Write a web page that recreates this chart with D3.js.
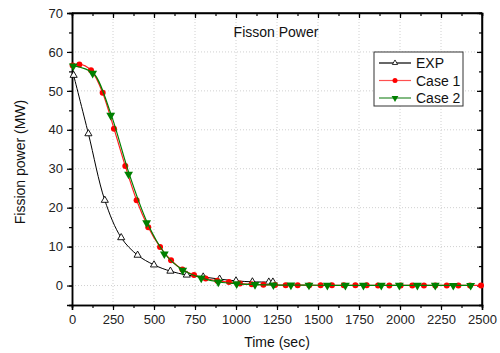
<!DOCTYPE html>
<html>
<head>
<meta charset="utf-8">
<script src="https://cdn.jsdelivr.net/npm/d3@7"></script>
<style>
  body { margin: 0; background: #fff; }
  svg { display: block; font-family: "Liberation Sans", Arial, sans-serif; }
</style>
</head>
<body>
<div class="chart"></div>
<script>
// data
var expTime = [10, 100, 200, 300, 400, 500, 600, 700, 800, 900, 1000, 1100, 1200, 1225];
var expPower = [54, 39, 21.9, 12.3, 7.8, 5.3, 3.7, 2.7, 2.2, 1.65, 1.2, 0.95, 0.9, 0.9];

var case1Time = [4, 45, 116, 187, 256, 325, 394, 465, 537, 604, 673, 744, 815, 886, 957, 1024, 1096, 1167, 1238,
  1303, 1376, 1447, 1516, 1585, 1657, 1728, 1797, 1866, 1935, 2004, 2075, 2146, 2215, 2285, 2356, 2427, 2494];
var case1Power = [56.5, 56.8, 55.3, 49.5, 40.3, 30.7, 21.9, 15.0, 9.9, 6.5, 4.1, 2.7, 1.8, 1.2, 0.9, 0.5, 0.3, 0.2, 0.15,
  0.1, 0.1, 0.08, 0.07, 0.06, 0.05, 0.05, 0.05, 0.04, 0.04, 0.04, 0.03, 0.03, 0.03, 0.03, 0.02, 0.02, 0.02];

var case2Time = [8, 126, 236, 345, 455, 563, 675, 788, 892, 1004, 1116, 1228, 1335, 1445, 1557, 1667, 1777, 1886,
  1996, 2106, 2215, 2325, 2431];
var case2Power = [56.4, 54.5, 43.7, 28.6, 16.1, 8.1, 3.9, 1.9, 0.9, 0.45, 0.25, 0.15, 0.1, 0.08, 0.06, 0.05, 0.05, 0.04,
  0.04, 0.03, 0.03, 0.02, 0.02];

var xTicks = [0, 250, 500, 750, 1000, 1250, 1500, 1750, 2000, 2250, 2500];
var yTicks = [0, 10, 20, 30, 40, 50, 60, 70];
var seriesNames = ["EXP", "Case 1", "Case 2"];

var width = 500;
var height = 353;
var margin = {top: 13, right: 18, bottom: 48, left: 72};

var svg = d3.select(".chart").append("svg")
    .attr("width", width)
    .attr("height", height);

var x = d3.scaleLinear().domain([0, 2500]).range([margin.left, width - margin.right]);
var y = d3.scaleLinear().domain([-5, 70]).range([height - margin.bottom, margin.top]);

var x0 = x.range()[0], x1 = x.range()[1];
var y0 = y.range()[0], y1 = y.range()[1];

// grid
svg.append("g").selectAll("line").data(xTicks.slice(1, -1)).enter().append("line")
    .attr("x1", function(d) { return x(d); })
    .attr("x2", function(d) { return x(d); })
    .attr("y1", y1).attr("y2", y0)
    .attr("stroke", "#d0d0d0").attr("stroke-dasharray", "1,2");
svg.append("g").selectAll("line").data(yTicks.slice(0, -1)).enter().append("line")
    .attr("y1", function(d) { return y(d); })
    .attr("y2", function(d) { return y(d); })
    .attr("x1", x0).attr("x2", x1)
    .attr("stroke", "#d0d0d0").attr("stroke-dasharray", "1,2");

// axes
var xMinor = d3.range(0, 2501, 125);
var yMinor = d3.range(-5, 71, 5);

var axBottom = svg.append("g").attr("transform", "translate(0," + y0 + ")")
    .call(d3.axisBottom(x).tickValues(xTicks).tickSize(5).tickPadding(5).tickFormat(d3.format("d")));
var axLeft = svg.append("g").attr("transform", "translate(" + x0 + ",0)")
    .call(d3.axisLeft(y).tickValues(yTicks).tickSize(5).tickPadding(4));
var axTop = svg.append("g").attr("transform", "translate(0," + y1 + ")")
    .call(d3.axisBottom(x).tickValues(xTicks).tickSize(5).tickFormat(""));
var axRight = svg.append("g").attr("transform", "translate(" + x1 + ",0)")
    .call(d3.axisLeft(y).tickValues(yTicks).tickSize(5).tickFormat(""));

svg.append("g").attr("transform", "translate(0," + y0 + ")")
    .call(d3.axisBottom(x).tickValues(xMinor).tickSize(3).tickFormat(""));
svg.append("g").attr("transform", "translate(" + x0 + ",0)")
    .call(d3.axisLeft(y).tickValues(yMinor).tickSize(3).tickFormat(""));
svg.append("g").attr("transform", "translate(0," + y1 + ")")
    .call(d3.axisBottom(x).tickValues(xMinor).tickSize(3).tickFormat(""));
svg.append("g").attr("transform", "translate(" + x1 + ",0)")
    .call(d3.axisLeft(y).tickValues(yMinor).tickSize(3).tickFormat(""));

svg.selectAll(".domain").attr("stroke", "#000").attr("stroke-width", 1.5);
svg.selectAll(".tick line").attr("stroke", "#000").attr("stroke-width", 1.2);
svg.selectAll(".tick text").attr("font-size", 13).attr("fill", "#222")
    .attr("font-family", "Liberation Sans, Arial, sans-serif");
axTop.select(".domain").attr("d", "M" + x0 + ",0H" + x1);
axRight.select(".domain").attr("d", "M0," + y0 + "V" + y1);

// lines
var line = d3.line()
    .x(function(d) { return x(d[0]); })
    .y(function(d) { return y(d[1]); });

var expData = d3.zip(expTime, expPower);
var case1Data = d3.zip(case1Time, case1Power);
var case2Data = d3.zip(case2Time, case2Power);

var triUp = d3.symbol().type(d3.symbolTriangle).size(22);
var triDown = d3.symbol().type(d3.symbolTriangle).size(34);

svg.append("path").datum(expData)
    .attr("d", line.curve(d3.curveCatmullRom)(expData)).attr("fill", "none").attr("stroke", "#000").attr("stroke-width", 1);
svg.append("g").selectAll("path").data(expData).enter().append("path")
    .attr("d", triUp)
    .attr("transform", function(d) { return "translate(" + x(d[0]) + "," + y(d[1]) + ")"; })
    .attr("fill", "#fff").attr("stroke", "#000").attr("stroke-width", 0.9);

line.curve(d3.curveMonotoneX);
svg.append("path").datum(case1Data)
    .attr("d", line).attr("fill", "none").attr("stroke", "#ff2020").attr("stroke-width", 1.2);
svg.append("g").selectAll("circle").data(case1Data).enter().append("circle")
    .attr("cx", function(d) { return x(d[0]); })
    .attr("cy", function(d) { return y(d[1]); })
    .attr("r", 3).attr("fill", "#ff0000");

svg.append("path").datum(case2Data)
    .attr("d", line).attr("fill", "none").attr("stroke", "#008000").attr("stroke-width", 1.2)
    .attr("transform", "translate(0.7,0)");
svg.append("g").selectAll("path").data(case2Data).enter().append("path")
    .attr("d", triDown)
    .attr("transform", function(d) { return "translate(" + x(d[0]) + "," + y(d[1]) + ") rotate(180)"; })
    .attr("fill", "#008000");

// title and axis labels
svg.append("text").attr("x", 276).attr("y", 37).attr("text-anchor", "middle")
    .attr("font-size", 14).attr("fill", "#111").text("Fisson Power");
svg.append("text").attr("x", (x0 + x1) / 2).attr("y", 347).attr("text-anchor", "middle")
    .attr("font-size", 14).attr("fill", "#111").text("Time (sec)");
svg.append("text").attr("transform", "translate(25," + 162 + ") rotate(-90)").attr("text-anchor", "middle")
    .attr("font-size", 14).attr("fill", "#111").text("Fission power (MW)");

// legend
var lg = svg.append("g").attr("transform", "translate(374,52)");
lg.append("rect").attr("width", 89).attr("height", 54)
    .attr("fill", "#fff").attr("stroke", "#333").attr("stroke-width", 1);
var lineColors = ["#000", "#ff5050", "#2e8b2e"];
var rows = lg.selectAll("g").data(seriesNames).enter().append("g")
    .attr("transform", function(d, i) { return "translate(0," + (11 + i * 17.5) + ")"; });
rows.append("line").attr("x1", 5).attr("x2", 37).attr("stroke", function(d, i) { return lineColors[i]; })
    .attr("stroke-width", 1.2);
rows.each(function(d, i) {
  var g = d3.select(this);
  if (i === 0) g.append("path").attr("d", d3.symbol().type(d3.symbolTriangle).size(12))
      .attr("transform", "translate(21,0)").attr("fill", "#fff").attr("stroke", "#000").attr("stroke-width", 0.8);
  if (i === 1) g.append("circle").attr("cx", 21).attr("r", 2.5).attr("fill", "#ff0000");
  if (i === 2) g.append("path").attr("d", d3.symbol().type(d3.symbolTriangle).size(20))
      .attr("transform", "translate(21,0) rotate(180)").attr("fill", "#008000");
});
rows.append("text").attr("x", 42).attr("y", 5).attr("font-size", 14).attr("fill", "#111")
    .text(function(d) { return d; });
</script>
</body>
</html>
